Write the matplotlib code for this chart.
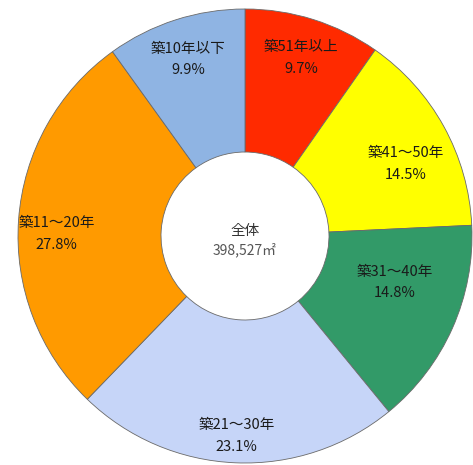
import matplotlib
matplotlib.use("Agg")
import matplotlib.pyplot as plt
import numpy as np

plt.rcParams['font.family'] = ['Noto Sans CJK JP', 'DejaVu Sans']

# Share of floor area by building age (clockwise from 12 o'clock)
categories = ["築51年以上", "築41～50年", "築31～40年", "築21～30年", "築11～20年", "築10年以下"]
shares = [9.7, 14.5, 14.8, 23.1, 27.8, 9.9]
colors = ["#FF2A00", "#FFFF00", "#329A68", "#C6D5F8", "#FF9A00", "#8FB4E3"]
# label placement: fraction of outer radius and angular nudge (degrees) from mid-angle
label_radius = [0.825, 0.775, 0.69, 0.88, 0.83, 0.82]
label_nudge = [0.0, -4.5, 7.0, 0.0, 3.3, 0.0]
total_label = "全体"
total_value = "398,527㎡"

fig = plt.figure(figsize=(4.73, 4.65), dpi=100)
ax = fig.add_axes([0, 0, 1, 1])

hole = 0.37
wedges, _ = ax.pie(
    shares, colors=colors, startangle=90, counterclock=False, radius=1.0,
    wedgeprops=dict(width=1 - hole, edgecolor="#6a6a6a", linewidth=0.6),
)

# labels near each slice's mid-angle
theta = 90.0
tot = sum(shares)
for cat, val, r, nudge in zip(categories, shares, label_radius, label_nudge):
    span = val / tot * 360.0
    mid = np.deg2rad(theta - span / 2 + nudge)
    theta -= span
    x, y = r * np.cos(mid), r * np.sin(mid)
    ax.text(x, y + 0.045, cat, ha="center", va="center", fontsize=10.5, color="#1a1a1a")
    ax.text(x, y - 0.05, f"{val}%", ha="center", va="center", fontsize=10.5, color="#1a1a1a")

ax.text(0, 0.02, total_label, ha="center", va="center", fontsize=10.5, color="#333333")
ax.text(0, -0.062, total_value, ha="center", va="center", fontsize=10, color="#555555")

ax.set_xlim(-245 / 227, 228 / 227)
ax.set_ylim(-229 / 227, 236 / 227)
ax.set_aspect("auto")
ax.axis("off")

fig.savefig("out.png", dpi=100, facecolor="white")
